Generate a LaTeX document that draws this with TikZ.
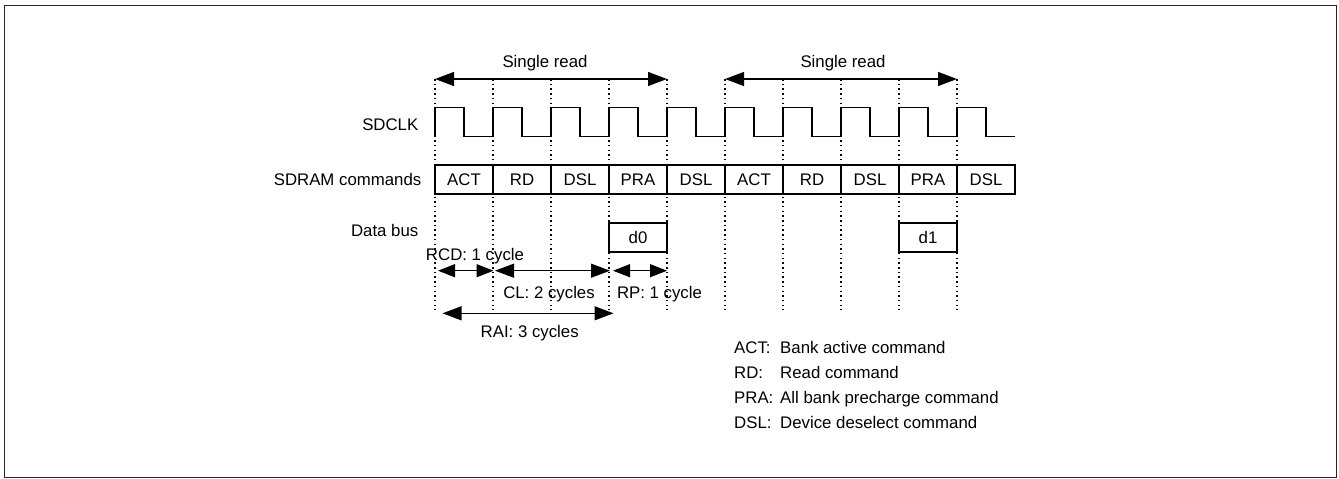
\documentclass[tikz,border=0pt]{standalone}
\usepackage{fontspec}
\setmainfont{Liberation Sans}
\usetikzlibrary{arrows.meta}
\begin{document}
\begin{tikzpicture}[x=1pt,y=-1pt,
  txt/.style={inner sep=0pt,font=\fontsize{16.8}{20}\selectfont},
  cmdbox/.style={draw,line width=1.2pt,minimum width=58pt,minimum height=29pt,inner sep=0pt,font=\fontsize{16.8}{20}\selectfont},
  guide/.style={line width=1.5pt,dash pattern=on 1.5pt off 3.2pt},
  dim/.style={line width=1.2pt,{Triangle[length=19pt,width=14pt]}-{Triangle[length=19pt,width=14pt]}},
  sdim/.style={line width=1.2pt,{Triangle[length=17pt,width=13pt]}-{Triangle[length=17pt,width=13pt]}},
  wave/.style={line width=1.2pt}]
\useasboundingbox (0,0) rectangle (1339,479);
\draw[line width=1.3pt,black!85] (4.5,5.5) rectangle (1336.5,477.5);

% guide lines
\foreach \k in {0,...,9}{
  \coordinate (t\k) at ({435+58*\k},79);
  \coordinate (b\k) at ({435+58*\k},310);
  \draw[guide] (t\k) -- (b\k);
}

% single read arrows
\draw[dim] (t0) -- (t4);
\draw[dim] (t5) -- (t9);
\node[txt,anchor=base] (sr1) at (545,67.3) {Single read};
\node[txt,anchor=base] (sr2) at (843,67.3) {Single read};

% row labels
\node[txt,anchor=base east] (lclk) at (418.5,130.7) {SDCLK};
\node[txt,anchor=base east] (lcmd) at (421.5,185.7) {SDRAM commands};
\node[txt,anchor=base east] (ldat) at (418.5,236.7) {Data bus};

% clock
\draw[wave] (435,136.3) -- (435,107.5)
  \foreach \k in {0,...,8}{ -- ({435+58*\k},107.5) -- ({464+58*\k},107.5) -- ({464+58*\k},136.3) -- ({493+58*\k},136.3) -- ({493+58*\k},107.5)}
  -- (986,107.5) -- (986,136.3) -- (1015,136.3);

% commands
\foreach \k/\c in {0/ACT,1/RD,2/DSL,3/PRA,4/DSL,5/ACT,6/RD,7/DSL,8/PRA,9/DSL}{
  \node[cmdbox] (c\k) at ({464+58*\k},179.5) {\c};
}

% data
\node[cmdbox] (d0) at (638,237.5) {d0};
\node[cmdbox] (d1) at (928,237.5) {d1};

% timing dims
\coordinate (rcdA) at (438,270.7);
\coordinate (rcdB) at (493.5,270.7);
\coordinate (clA) at (495,270.7);
\coordinate (clB) at (610,270.7);
\coordinate (rpA) at (613,270.7);
\coordinate (rpB) at (667,270.7);
\coordinate (raiA) at (442.5,313.3);
\coordinate (raiB) at (613.5,313.3);
\draw[sdim] (rcdA) -- (rcdB);
\draw[dim] (clA) -- (clB);
\draw[sdim] (rpA) -- (rpB);
\draw[dim] (raiA) -- (raiB);
\node[txt,anchor=base] (lrcd) at (475,260) {RCD: 1 cycle};
\node[txt,anchor=base] (lcl) at (549,298.3) {CL: 2 cycles};
\node[txt,anchor=base] (lrp) at (659.5,298.3) {RP: 1 cycle};
\node[txt,anchor=base] (lrai) at (529.7,337.3) {RAI: 3 cycles};

% legend
\node[txt,anchor=base west] (k1) at (734,353.4) {ACT:};
\node[txt,anchor=base west] (v1) at (780,353.4) {Bank active command};
\node[txt,anchor=base west] (k2) at (734,378.3) {RD:};
\node[txt,anchor=base west] (v2) at (780,378.3) {Read command};
\node[txt,anchor=base west] (k3) at (734,403.2) {PRA:};
\node[txt,anchor=base west] (v3) at (780,403.2) {All bank precharge command};
\node[txt,anchor=base west] (k4) at (734,428) {DSL:};
\node[txt,anchor=base west] (v4) at (780,428) {Device deselect command};
\end{tikzpicture}
\end{document}
